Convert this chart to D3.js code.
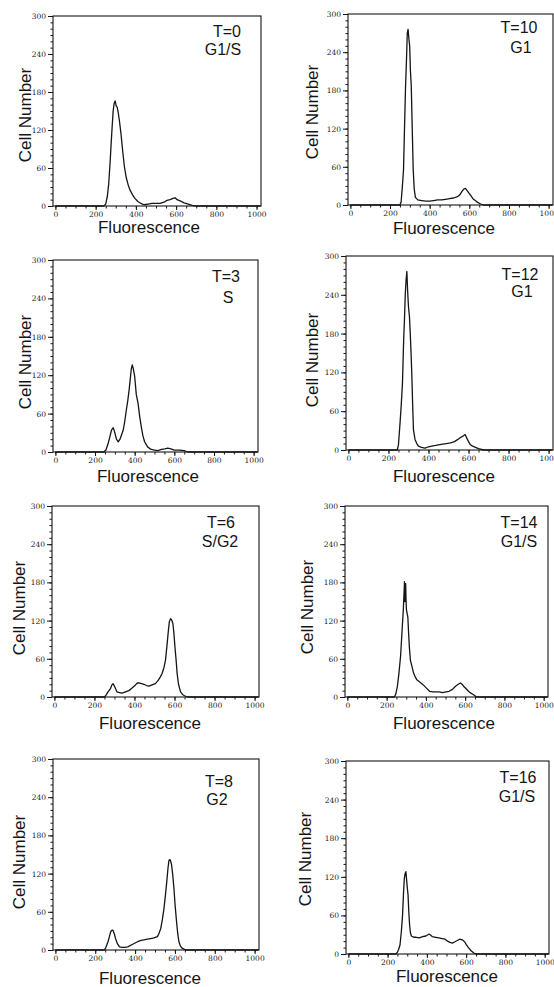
<!DOCTYPE html>
<html>
<head>
<meta charset="utf-8">
<script src="https://cdn.jsdelivr.net/npm/d3@7"></script>
<style>
  body { margin: 0; background: #fff; }
  svg { display: block; }
</style>
</head>
<body>
<script>
const WIDTH = 554
const HEIGHT = 987

// histogram data: [channel, cell count]
const t0 = [[0,0],[240,0],[250,3],[258,15],[265,35],[272,70],[280,115],[287,150],[292,162],[297,166],[302,158],[307,156],[312,148],[318,135],[326,114],[334,88],[343,62],[352,45],[362,33],[371,25],[383,18],[395,12],[410,7],[425,4],[440,2],[460,3],[480,4],[500,4],[520,4],[540,6],[555,9],[570,10],[585,12],[595,13],[605,10],[620,8],[640,5],[660,3],[680,1],[700,0],[1020,0]]
const t10 = [[0,0],[250,0],[256,5],[262,28],[268,55],[273,120],[278,183],[283,228],[287,270],[291,276],[295,262],[299,250],[303,210],[307,188],[312,120],[317,55],[322,25],[328,12],[340,8],[360,7],[380,6],[400,6],[420,7],[440,8],[460,8],[480,9],[500,10],[520,11],[540,13],[552,16],[562,21],[572,25],[580,26],[588,23],[597,19],[607,15],[618,10],[630,7],[642,4],[655,2],[670,0],[1020,0]]
const t3 = [[0,0],[245,0],[255,3],[265,12],[275,24],[283,34],[292,38],[300,30],[308,20],[317,16],[326,20],[334,27],[342,34],[350,48],[358,66],[365,80],[372,97],[378,115],[383,130],[388,136],[393,130],[400,118],[408,90],[417,76],[425,56],[433,40],[441,26],[450,16],[465,8],[483,4],[500,3],[517,2],[535,4],[552,5],[567,6],[583,5],[600,3],[625,3],[650,2],[667,0],[1020,0]]
const t12 = [[0,0],[244,0],[250,8],[258,42],[264,70],[270,103],[276,170],[280,201],[284,240],[288,262],[292,276],[296,245],[300,222],[305,206],[309,180],[313,150],[317,114],[321,70],[325,31],[333,16],[342,10],[350,6],[365,4],[383,3],[400,5],[417,6],[435,7],[450,8],[470,9],[490,10],[510,11],[530,13],[545,16],[558,19],[570,21],[583,24],[592,18],[600,13],[610,8],[620,6],[635,4],[650,2],[675,0],[1020,0]]
const t6 = [[0,0],[250,0],[258,3],[268,8],[280,13],[287,19],[293,21],[300,17],[307,12],[313,8],[325,7],[338,6],[355,8],[372,10],[388,14],[405,19],[414,22],[422,22],[435,21],[447,20],[460,18],[472,17],[488,19],[505,21],[520,27],[530,32],[538,37],[547,46],[555,58],[562,80],[568,100],[574,118],[580,123],[586,121],[592,115],[597,100],[602,79],[608,58],[613,37],[620,20],[630,8],[640,4],[650,2],[665,0],[1020,0]]
const t14 = [[0,0],[240,0],[247,5],[255,17],[263,38],[271,64],[276,90],[280,111],[285,137],[289,165],[291,181],[293,150],[295,160],[297,178],[299,150],[301,137],[305,130],[308,126],[312,100],[316,78],[321,58],[329,48],[337,38],[345,32],[354,27],[370,23],[387,19],[403,14],[419,9],[435,8],[452,8],[468,8],[485,7],[502,8],[518,9],[535,12],[551,17],[565,20],[576,22],[584,20],[592,17],[605,13],[617,9],[629,6],[641,4],[658,0],[1020,0]]
const t8 = [[0,0],[245,0],[252,3],[258,8],[264,13],[271,21],[278,29],[284,31],[289,31],[295,26],[302,18],[311,10],[322,5],[335,4],[347,4],[364,5],[375,7],[388,9],[400,11],[413,13],[430,15],[446,16],[462,17],[479,18],[495,19],[512,21],[520,26],[529,34],[537,48],[545,65],[552,85],[559,107],[565,128],[570,141],[575,142],[579,139],[583,134],[589,118],[595,97],[601,70],[608,45],[614,26],[620,13],[628,6],[636,3],[648,1],[661,0],[1020,0]]
const t16 = [[0,0],[242,0],[250,3],[256,7],[263,14],[270,35],[276,60],[281,95],[285,117],[289,125],[293,128],[296,118],[299,107],[302,98],[304,92],[308,65],[312,45],[316,33],[321,28],[333,26],[345,26],[362,25],[378,27],[395,28],[411,31],[420,29],[428,27],[445,26],[461,25],[477,24],[493,23],[505,20],[518,18],[530,17],[543,19],[555,21],[567,23],[580,22],[592,19],[600,15],[609,11],[617,8],[625,5],[633,3],[641,1],[655,0],[1020,0]]

const xTicks = [0, 200, 400, 600, 800, 1000]
const yTicks = [0, 60, 120, 180, 240, 300]
const timeLabels = ["T=0", "T=10", "T=3", "T=12", "T=6", "T=14", "T=8", "T=16"]
const phaseLabels = ["G1/S", "G1", "S", "G1", "S/G2", "G1/S", "G2", "G1/S"]
const series = [t0, t10, t3, t12, t6, t14, t8, t16]

// where each panel sits on the page
const layout = [
  {l: 53,  r: 261, t: 16,  b: 206, yl: [25, 115],  xl: [149, 233], tl: [227, 37],  pl: [223, 55]},
  {l: 348, r: 553, t: 14,  b: 205, yl: [312, 112], xl: [444, 234], tl: [519, 33],  pl: [521, 53]},
  {l: 53,  r: 258, t: 260, b: 452, yl: [25, 362],  xl: [148, 482], tl: [226, 282], pl: [228, 303]},
  {l: 346, r: 553, t: 256, b: 450, yl: [312, 360], xl: [444, 482], tl: [520, 280], pl: [522, 297]},
  {l: 52,  r: 259, t: 506, b: 697, yl: [19, 608],  xl: [150, 729], tl: [221, 528], pl: [220, 547]},
  {l: 345, r: 548, t: 506, b: 697, yl: [307, 607], xl: [444, 729], tl: [519, 528], pl: [519, 547]},
  {l: 53,  r: 259, t: 759, b: 950, yl: [19, 862],  xl: [150, 984], tl: [219, 787], pl: [217, 805]},
  {l: 346, r: 549, t: 761, b: 954, yl: [305, 859], xl: [447, 982], tl: [518, 783], pl: [517, 802]}
]

const svg = d3.select("body")
  .append("svg")
  .attr("width", WIDTH)
  .attr("height", HEIGHT)

const ink = "#151515"
const sans = "'Liberation Sans', Arial, Helvetica, sans-serif"
const serif = "'DejaVu Serif', 'Liberation Serif', serif"

series.forEach((data, i) => {
  const p = layout[i]
  const g = svg.append("g")

  const x = d3.scaleLinear().domain([-12, 1022]).range([p.l, p.r])
  const y = d3.scaleLinear().domain([0, 300]).range([p.b, p.t])

  // frame
  g.append("rect")
    .attr("x", p.l).attr("y", p.t)
    .attr("width", p.r - p.l).attr("height", p.b - p.t)
    .attr("fill", "none")
    .attr("stroke", ink)
    .attr("stroke-width", 1.1)

  // y axis: majors every 60, minors every 10
  const yAxis = d3.axisLeft(y).tickValues(yTicks).tickSize(5).tickPadding(2).tickFormat(d3.format("d"))
  const yMinor = d3.axisLeft(y).tickValues(d3.range(0, 301, 10)).tickSize(2.5).tickFormat("")
  g.append("g").attr("transform", `translate(${p.l},0)`).call(yMinor)
  g.append("g").attr("transform", `translate(${p.l},0)`).call(yAxis)

  // x axis: majors every 200, minors every 50
  const xAxis = d3.axisBottom(x).tickValues(xTicks).tickSize(4).tickPadding(1.5).tickFormat(d3.format("d"))
  const xMinor = d3.axisBottom(x).tickValues(d3.range(0, 1001, 50)).tickSize(2.5).tickFormat("")
  g.append("g").attr("transform", `translate(0,${p.b})`).call(xMinor)
  g.append("g").attr("transform", `translate(0,${p.b})`).call(xAxis)

  g.selectAll(".domain").remove()
  g.selectAll(".tick line").attr("stroke", ink).attr("stroke-width", 1)
  g.selectAll(".tick text")
    .attr("font-family", serif)
    .attr("font-size", 7.5)
    .attr("fill", "#222")

  // histogram trace
  const line = d3.line().x(d => x(d[0])).y(d => y(d[1]))
  g.append("path")
    .datum(data)
    .attr("fill", "none")
    .attr("stroke", ink)
    .attr("stroke-width", 1.3)
    .attr("stroke-linejoin", "round")
    .attr("d", line)

  // axis titles
  g.append("text")
    .text("Cell Number")
    .attr("transform", `translate(${p.yl[0]},${p.yl[1]}) rotate(-90)`)
    .attr("text-anchor", "middle")
    .attr("dominant-baseline", "central")
    .attr("font-family", sans)
    .attr("font-size", 17)
    .attr("fill", ink)

  g.append("text")
    .text("Fluorescence")
    .attr("x", p.xl[0]).attr("y", p.xl[1])
    .attr("text-anchor", "middle")
    .attr("font-family", sans)
    .attr("font-size", 17)
    .attr("fill", ink)

  // time point and phase
  g.append("text")
    .text(timeLabels[i])
    .attr("x", p.tl[0]).attr("y", p.tl[1])
    .attr("text-anchor", "middle")
    .attr("font-family", sans)
    .attr("font-size", 16)
    .attr("fill", ink)

  g.append("text")
    .text(phaseLabels[i])
    .attr("x", p.pl[0]).attr("y", p.pl[1])
    .attr("text-anchor", "middle")
    .attr("font-family", sans)
    .attr("font-size", 16)
    .attr("fill", ink)
})
</script>
</body>
</html>
